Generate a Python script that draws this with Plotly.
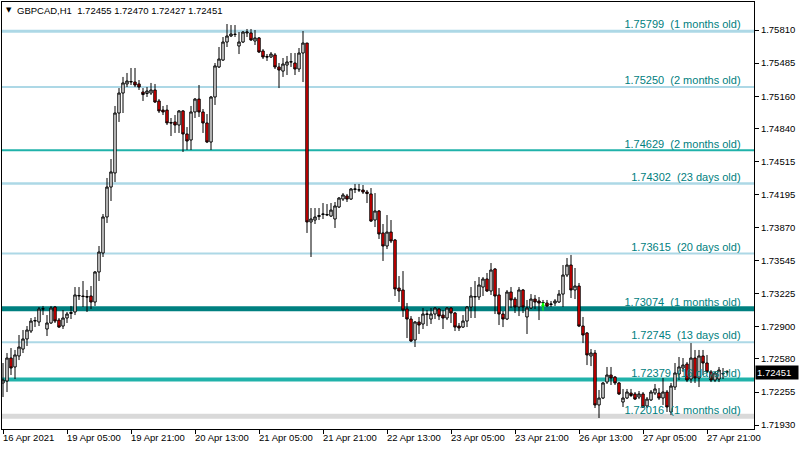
import plotly.graph_objects as go

# ---------------- data (GBPCAD, H1) ----------------
open_ = [
    1.72344, 1.72363, 1.72589, 1.72501, 1.72609, 1.72677, 1.72776, 1.72854, 1.72952, 1.72943,
    1.73070, 1.72874, 1.72933, 1.73090, 1.72962, 1.72903, 1.72982, 1.73026, 1.73041, 1.73198,
    1.73198, 1.73193, 1.73198, 1.73139, 1.73434, 1.73620, 1.73974, 1.74268, 1.74406, 1.74995,
    1.75191, 1.75280, 1.75299, 1.75299, 1.75280, 1.75201, 1.75186, 1.75191, 1.75221, 1.75113,
    1.75024, 1.75024, 1.74902, 1.74907, 1.74877, 1.75015, 1.74789, 1.74730, 1.75005, 1.75132,
    1.75005, 1.74897, 1.74710, 1.75152, 1.75447, 1.75515, 1.75692, 1.75751, 1.75766, 1.75653,
    1.75692, 1.75781, 1.75781, 1.75702, 1.75732, 1.75604, 1.75550, 1.75545, 1.75565, 1.75447,
    1.75407, 1.75466, 1.75496, 1.75486, 1.75427, 1.75584, 1.75682, 1.73925, 1.73944, 1.73978,
    1.73998, 1.73993, 1.73983, 1.73954, 1.74072, 1.74150, 1.74180, 1.74150, 1.74244, 1.74239,
    1.74239, 1.74219, 1.74200, 1.73944, 1.74033, 1.73817, 1.73689, 1.73826, 1.73748, 1.73276,
    1.73257, 1.73070, 1.72972, 1.72766, 1.72943, 1.72923, 1.73016, 1.72972, 1.73021, 1.73070,
    1.73011, 1.72982, 1.73080, 1.73031, 1.72903, 1.72893, 1.72952, 1.73090, 1.73188, 1.73188,
    1.73286, 1.73365, 1.73247, 1.73463, 1.73208, 1.73021, 1.72972, 1.73237, 1.73168, 1.73090,
    1.73257, 1.72992, 1.73080, 1.73168, 1.73149, 1.73129, 1.73129, 1.73114, 1.73129, 1.73139,
    1.73217, 1.73404, 1.73502, 1.73257, 1.73296, 1.72903, 1.72835, 1.72609, 1.72638, 1.72128,
    1.72196, 1.72353, 1.72422, 1.72402, 1.72344, 1.72157, 1.72196, 1.72245, 1.72236, 1.72206,
    1.72236, 1.72118, 1.72177, 1.72245, 1.72245, 1.72196, 1.72255, 1.72059, 1.72304, 1.72432,
    1.72491, 1.72530, 1.72383, 1.72589, 1.72393, 1.72609, 1.72540, 1.72452, 1.72373, 1.72383,
    1.72432, 1.72455,
]
high = [
    1.72540, 1.72638, 1.72687, 1.72668, 1.72815, 1.72864, 1.72903, 1.72982, 1.72992, 1.73090,
    1.73100, 1.73011, 1.73100, 1.73100, 1.72982, 1.73060, 1.73041, 1.73100, 1.73286, 1.73286,
    1.73345, 1.73257, 1.73296, 1.73443, 1.73689, 1.74003, 1.74357, 1.74543, 1.75064, 1.75240,
    1.75349, 1.75388, 1.75437, 1.75437, 1.75319, 1.75240, 1.75250, 1.75290, 1.75280, 1.75132,
    1.75064, 1.75074, 1.74946, 1.74975, 1.75024, 1.75024, 1.74857, 1.75064, 1.75142, 1.75270,
    1.75034, 1.74985, 1.75162, 1.75486, 1.75643, 1.75741, 1.75869, 1.75859, 1.75859, 1.75790,
    1.75800, 1.75820, 1.75820, 1.75810, 1.75741, 1.75623, 1.75574, 1.75594, 1.75584, 1.75486,
    1.75535, 1.75555, 1.75584, 1.75584, 1.75633, 1.75800, 1.75682, 1.74062, 1.74062, 1.74062,
    1.74111, 1.74101, 1.74111, 1.74121, 1.74170, 1.74209, 1.74200, 1.74258, 1.74298, 1.74298,
    1.74288, 1.74239, 1.74258, 1.74209, 1.74042, 1.73905, 1.73993, 1.73944, 1.73758, 1.73394,
    1.73443, 1.73129, 1.73001, 1.72952, 1.72992, 1.73080, 1.73060, 1.73080, 1.73090, 1.73080,
    1.73060, 1.73090, 1.73090, 1.73041, 1.72933, 1.73011, 1.73100, 1.73286, 1.73345, 1.73384,
    1.73384, 1.73424, 1.73522, 1.73473, 1.73276, 1.73051, 1.73257, 1.73286, 1.73188, 1.73286,
    1.73267, 1.73159, 1.73217, 1.73208, 1.73188, 1.73159, 1.73159, 1.73149, 1.73168, 1.73257,
    1.73502, 1.73571, 1.73601, 1.73473, 1.73326, 1.72992, 1.72844, 1.72677, 1.72668, 1.72275,
    1.72353, 1.72501, 1.72501, 1.72412, 1.72353, 1.72285, 1.72285, 1.72285, 1.72255, 1.72265,
    1.72255, 1.72206, 1.72275, 1.72334, 1.72294, 1.72393, 1.72275, 1.72344, 1.72540, 1.72599,
    1.72589, 1.72550, 1.72736, 1.72668, 1.72668, 1.72668, 1.72619, 1.72471, 1.72461, 1.72501,
    1.72491, 1.72470,
]
low = [
    1.72206, 1.72255, 1.72422, 1.72383, 1.72569, 1.72638, 1.72707, 1.72835, 1.72893, 1.72903,
    1.73011, 1.72805, 1.72923, 1.72933, 1.72884, 1.72874, 1.72933, 1.72972, 1.73011, 1.73159,
    1.73090, 1.73041, 1.73070, 1.73100, 1.73345, 1.73581, 1.73915, 1.74131, 1.74317, 1.74907,
    1.74995, 1.75250, 1.75270, 1.75250, 1.75221, 1.75113, 1.75152, 1.75172, 1.75093, 1.74995,
    1.74975, 1.74877, 1.74769, 1.74799, 1.74799, 1.74612, 1.74632, 1.74632, 1.74946, 1.74956,
    1.74799, 1.74700, 1.74632, 1.75074, 1.75437, 1.75506, 1.75643, 1.75741, 1.75741, 1.75574,
    1.75682, 1.75741, 1.75702, 1.75663, 1.75584, 1.75525, 1.75506, 1.75535, 1.75427, 1.75240,
    1.75349, 1.75368, 1.75447, 1.75368, 1.75398, 1.75299, 1.73817, 1.73581, 1.73905, 1.73944,
    1.73954, 1.73983, 1.73974, 1.73866, 1.74062, 1.74131, 1.74121, 1.74141, 1.74209, 1.74219,
    1.74200, 1.74111, 1.73925, 1.73875, 1.73758, 1.73542, 1.73659, 1.73718, 1.73198, 1.73139,
    1.72992, 1.72785, 1.72746, 1.72697, 1.72825, 1.72874, 1.72903, 1.72923, 1.72972, 1.72962,
    1.72874, 1.72962, 1.72933, 1.72854, 1.72854, 1.72884, 1.72893, 1.72982, 1.72982, 1.73159,
    1.73198, 1.73237, 1.73208, 1.73021, 1.72913, 1.72893, 1.72962, 1.73080, 1.73031, 1.73001,
    1.73031, 1.72825, 1.73070, 1.73070, 1.72962, 1.73090, 1.73090, 1.73090, 1.73100, 1.73129,
    1.73090, 1.73384, 1.73178, 1.73168, 1.72893, 1.72736, 1.72520, 1.72510, 1.72098, 1.72000,
    1.72186, 1.72334, 1.72324, 1.72324, 1.72226, 1.72108, 1.72186, 1.72206, 1.72177, 1.72186,
    1.72098, 1.72098, 1.72167, 1.72226, 1.72177, 1.72128, 1.72059, 1.72029, 1.72275, 1.72373,
    1.72452, 1.72353, 1.72344, 1.72344, 1.72304, 1.72422, 1.72442, 1.72353, 1.72353, 1.72353,
    1.72383, 1.72427,
]
close = [
    1.72373, 1.72589, 1.72491, 1.72619, 1.72697, 1.72776, 1.72864, 1.72952, 1.72957, 1.73070,
    1.73073, 1.72933, 1.73080, 1.72952, 1.72893, 1.72982, 1.73021, 1.73036, 1.73208, 1.73203,
    1.73193, 1.73188, 1.73139, 1.73434, 1.73630, 1.73974, 1.74268, 1.74416, 1.74995, 1.75191,
    1.75290, 1.75309, 1.75304, 1.75270, 1.75250, 1.75176, 1.75211, 1.75221, 1.75103, 1.75015,
    1.75005, 1.74897, 1.74897, 1.74877, 1.75015, 1.74789, 1.74720, 1.75005, 1.75132, 1.75005,
    1.74897, 1.74710, 1.75152, 1.75457, 1.75525, 1.75692, 1.75751, 1.75771, 1.75768, 1.75692,
    1.75790, 1.75790, 1.75712, 1.75732, 1.75594, 1.75545, 1.75545, 1.75574, 1.75447, 1.75417,
    1.75476, 1.75496, 1.75498, 1.75427, 1.75584, 1.75682, 1.73925, 1.73954, 1.73974, 1.73988,
    1.74003, 1.73998, 1.74042, 1.74082, 1.74160, 1.74190, 1.74150, 1.74249, 1.74249, 1.74241,
    1.74219, 1.74204, 1.73934, 1.74033, 1.73807, 1.73689, 1.73826, 1.73738, 1.73267, 1.73247,
    1.73060, 1.72972, 1.72756, 1.72943, 1.72913, 1.73021, 1.73021, 1.73021, 1.73080, 1.73001,
    1.72982, 1.73080, 1.73031, 1.72893, 1.72884, 1.72952, 1.73090, 1.73198, 1.73193, 1.73306,
    1.73365, 1.73247, 1.73453, 1.73198, 1.73021, 1.72972, 1.73237, 1.73159, 1.73090, 1.73257,
    1.73090, 1.73080, 1.73168, 1.73139, 1.73129, 1.73134, 1.73100, 1.73119, 1.73149, 1.73217,
    1.73404, 1.73502, 1.73257, 1.73296, 1.72903, 1.72815, 1.72619, 1.72638, 1.72128, 1.72196,
    1.72344, 1.72422, 1.72393, 1.72344, 1.72236, 1.72196, 1.72255, 1.72221, 1.72186, 1.72236,
    1.72108, 1.72186, 1.72255, 1.72285, 1.72196, 1.72255, 1.72108, 1.72314, 1.72442, 1.72501,
    1.72520, 1.72373, 1.72589, 1.72393, 1.72609, 1.72540, 1.72452, 1.72373, 1.72442, 1.72471,
    1.72437, 1.72451,
]
bars = list(range(len(close)))

tick_bars = [0, 16, 32, 48, 64, 80, 96, 112, 128, 144, 160, 176]
tick_labels = ["16 Apr 2021", "19 Apr 05:00", "19 Apr 21:00", "20 Apr 13:00",
               "21 Apr 05:00", "21 Apr 21:00", "22 Apr 13:00", "23 Apr 05:00",
               "23 Apr 21:00", "26 Apr 13:00", "27 Apr 05:00", "27 Apr 21:00"]

price_ticks = [1.75810, 1.75485, 1.75160, 1.74840, 1.74515, 1.74195, 1.73870,
               1.73545, 1.73225, 1.72900, 1.72580, 1.72255, 1.71930]
price_tick_labels = ["1.75810", "1.75485", "1.75160", "1.74840", "1.74515", "1.74195",
                     "1.73870", "1.73545", "1.73225", "1.72900", "1.72580", "1.72255", "1.71930"]

level_prices = [1.75799, 1.75250, 1.74629, 1.74302, 1.73615, 1.73074, 1.72745, 1.72379, 1.72016]
level_ages = ["1 months old", "2 months old", "2 months old", "23 days old", "20 days old",
              "1 months old", "13 days old", "16 days old", "1 months old"]
level_colors = ["#ADD8E6", "#ADD8E6", "#20B2AA", "#ADD8E6", "#ADD8E6",
                "#008080", "#ADD8E6", "#20B2AA", "#D9D9D9"]
level_widths = [3, 2, 2, 2.5, 2, 5, 2, 4, 5]

symbol_name = "GBPCAD,H1"
ohlc_header = ["1.72455", "1.72470", "1.72427", "1.72451"]
last_price = 1.72451
signal_bar = 135
signal_from, signal_to = 1.73041, 1.73139

# ---------------- figure ----------------
AX = "Liberation Sans, Arial"
AXS = 9.5

fig = go.Figure()

# level labels (drawn beneath candles, like the terminal)
fig.add_trace(go.Scatter(
    x=[184.4] * len(level_prices), y=level_prices, mode="text",
    text=[f"{p:.5f}  ({a})" for p, a in zip(level_prices, level_ages)],
    textposition="top left",
    textfont=dict(family=AX, size=11, color="#008080"),
    hoverinfo="skip", showlegend=False,
))

fig.add_trace(go.Candlestick(
    x=bars, open=open_, high=high, low=low, close=close,
    increasing=dict(fillcolor="#FFFFFF", line=dict(color="#000000", width=1)),
    decreasing=dict(fillcolor="#FF0000", line=dict(color="#000000", width=1)),
    whiskerwidth=0, showlegend=False, hoverinfo="skip",
))

shapes = []
for p, c, w in zip(level_prices, level_colors, level_widths):
    shapes.append(dict(type="line", xref="paper", x0=0, x1=1, yref="y", y0=p, y1=p,
                       line=dict(color=c, width=w), layer="below"))

annotations = []
for b, t in zip(tick_bars, tick_labels):
    annotations.append(dict(x=b, xref="x", y=0, yref="paper", text=t, showarrow=False,
                            xanchor="left", yanchor="top", xshift=-2, yshift=-1,
                            font=dict(family=AX, size=AXS, color="#000000")))

# header
annotations.append(dict(x=0.003, xref="paper", y=0.981, yref="paper", text="▼",
                        showarrow=False, xanchor="left", yanchor="middle",
                        font=dict(family="DejaVu Sans", size=7, color="#000000")))
annotations.append(dict(x=0.017, xref="paper", y=0.979, yref="paper",
                        text=symbol_name + "  " + " ".join(ohlc_header),
                        showarrow=False, xanchor="left", yanchor="middle",
                        font=dict(family=AX, size=AXS, color="#000000")))

# last price box
annotations.append(dict(x=1, xref="paper", y=last_price, yref="y", text=f"{last_price:.5f}",
                        showarrow=False, xanchor="left", yanchor="middle", xshift=1,
                        bgcolor="#000000", borderpad=1, width=40, align="left",
                        font=dict(family=AX, size=AXS, color="#FFFFFF")))

# trade signal arrow
annotations.append(dict(x=signal_bar, y=signal_to, xref="x", yref="y",
                        ax=signal_bar, ay=signal_from, axref="x", ayref="y",
                        text="", showarrow=True, arrowhead=2, arrowsize=0.6,
                        arrowwidth=1.3, arrowcolor="#00FF00"))

fig.update_layout(
    width=800, height=450,
    margin=dict(l=2, r=46, t=2, b=21),
    paper_bgcolor="#FFFFFF", plot_bgcolor="#FFFFFF",
    shapes=shapes, annotations=annotations,
    hovermode=False, showlegend=False, boxgap=0.15,
    xaxis=dict(range=[-0.25, 187.75], rangeslider=dict(visible=False),
               showgrid=False, zeroline=False, showline=True, linecolor="#000000",
               linewidth=1, mirror=True, ticks="outside", ticklen=4, tickcolor="#000000",
               tickvals=tick_bars, showticklabels=False, fixedrange=True),
    yaxis=dict(range=[1.71892, 1.76085], side="right", showgrid=False, zeroline=False,
               showline=True, linecolor="#000000", linewidth=1, mirror=True,
               ticks="outside", ticklen=4, tickcolor="#000000",
               tickvals=price_ticks, ticktext=price_tick_labels,
               tickfont=dict(family=AX, size=AXS, color="#000000"), fixedrange=True),
)

fig.write_html("out.html", config={"displayModeBar": False},
               post_script="document.body.style.margin='0';document.body.style.overflow='hidden';")
